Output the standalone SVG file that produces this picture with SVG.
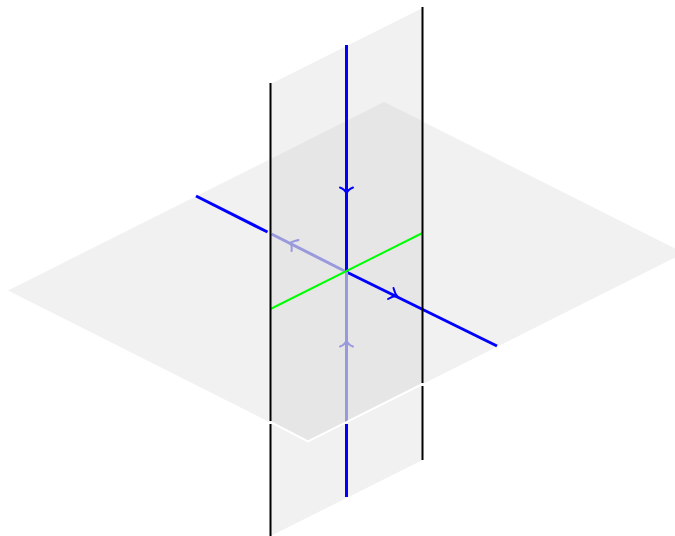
<svg xmlns="http://www.w3.org/2000/svg" width="675" height="536" viewBox="0 0 675 536">
<style>
.edge{fill:none;stroke:#000;stroke-width:2}
.b{fill:none;stroke:#00f;stroke-width:3}
.l{fill:none;stroke:#9999dd;stroke-width:3}
.g{fill:none;stroke:#0f0;stroke-width:2}
.h{fill:none;stroke-width:2;stroke-linecap:round}
</style>
<rect width="675" height="536" fill="#fff"/>
<g id="plane-horizontal"><path d="M8 290.500L384 102L684 253L308 441.500Z" fill="#f1f1f1"/></g>
<g id="plane-vertical">
<path d="M270.500 84L422.500 8V460L270.500 536Z" fill="#f1f1f1"/>
<path d="M270.500 159L384 102L422.500 121V384L308 441.500L270.500 422.500Z" fill="#e6e6e6"/>
<path d="M269 159V422" fill="none" stroke="#fff" stroke-width="1" stroke-opacity="0.7"/>
</g>
<g id="connectors">
<path class="b" d="M196 196L267.500 232"/>
<path class="l" d="M271.500 234L346.500 272"/>
<path class="b" d="M346.500 272L497 346"/>
<path class="b" d="M346.500 45V272"/>
<path class="l" d="M346.500 272V422"/>
<path class="b" d="M346.500 424V497"/>
<path class="g" d="M270.500 309L422.500 233"/>
<path class="h" stroke="#00f" d="M340 187.500C343 188.500 345.500 190.500 346.500 194C347.500 190.500 350 188.500 353 187.500"/>
<path class="h" stroke="#9999dd" d="M340 346.500C343 345.500 345.500 343.500 346.500 340C347.500 343.500 350 345.500 353 346.500"/>
<path class="h" stroke="#00f" d="M393.500 288C394.500 291 395 294 397 296C394 296 391 297 388 299"/>
<path class="h" stroke="#9999dd" d="M298.500 240C295.500 241 292 241.500 290 243C292 245 292 248 291.500 251"/>
<path class="edge" d="M270.500 83V421M270.500 424V536"/>
<path class="edge" d="M422.500 7V383M422.500 386V460"/>
<path d="M270.500 422L308 441.500L422.500 384" fill="none" stroke="#fff" stroke-width="2"/>
</g>
</svg>
